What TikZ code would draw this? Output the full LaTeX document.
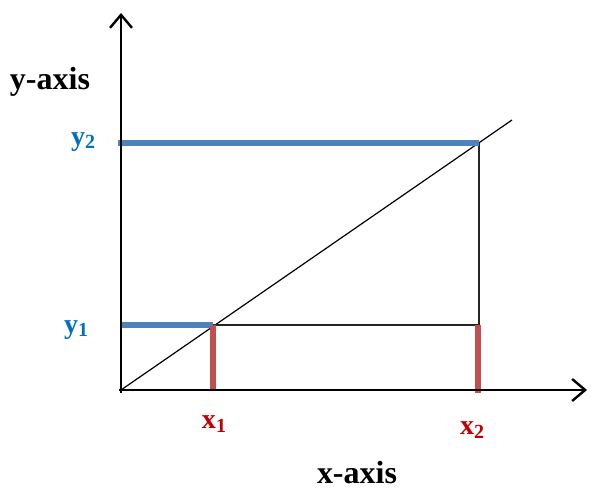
\documentclass[tikz,border=0pt]{standalone}
\usepackage{fontspec}
\setmainfont{Liberation Serif}
\usetikzlibrary{arrows.meta}
\definecolor{lineblue}{HTML}{4F81BD}
\definecolor{textblue}{HTML}{0070C0}
\definecolor{linered}{HTML}{C0504D}
\definecolor{textred}{HTML}{C00000}
\newcommand{\sub}[1]{\raisebox{-0.25ex}{\fontsize{10}{11}\selectfont #1}}
\tikzset{
  axis/.style={line width=1.3pt,-{Straight Barb[length=6.5pt,width=11pt,line width=1.2pt]}},
  thinline/.style={line width=0.8pt,draw=black!85},
  blueline/.style={line width=2.6pt,draw=lineblue},
  redline/.style={line width=2.6pt,draw=linered},
  axislabel/.style={font=\fontsize{16}{18}\selectfont\bfseries},
  bluelabel/.style={font=\fontsize{14}{16}\selectfont\bfseries,text=textblue},
  redlabel/.style={font=\fontsize{14}{16}\selectfont\bfseries,text=textred}
}
\begin{document}
\begin{tikzpicture}[x=0.5pt,y=-0.5pt]
  \useasboundingbox (0,0) rectangle (591,490);
  % points
  \coordinate (origin) at (121,390);
  \coordinate (ytip) at (121,13);
  \coordinate (xtip) at (587,390);
  \coordinate (ystart) at (121,393);
  \coordinate (xstart) at (119,390);
  \coordinate (diagend) at (512,120);
  \coordinate (ptA) at (213,325);
  \coordinate (ptB) at (479,143);
  \coordinate (yoneleft) at (121,325);
  \coordinate (ytwoleft) at (118,143);
  \coordinate (cornerB) at (479,325);
  \coordinate (xonefoot) at (213,390);
  \coordinate (xtwofoot) at (478,393);
  \coordinate (xtwotop) at (478,325);

  % diagonal and rectangle
  \draw[line width=0.6pt] (origin) -- (diagend);
  \draw[thinline] (ptA) -- (cornerB) -- (ptB);

  % levels
  \draw[blueline] (ytwoleft) -- (ptB);
  \draw[blueline] (yoneleft) -- (ptA);
  \draw[redline] (ptA) -- (xonefoot);
  \draw[redline] (xtwotop) -- (xtwofoot);

  % axes
  \draw[axis] (ystart) -- (ytip);
  \draw[axis] (xstart) -- (xtip);

  % labels
  \node[axislabel] (ylab) at (50,82) {y-axis};
  \node[axislabel] (xlab) at (357,473) {x-axis};
  \node[bluelabel] (ytwo) at (83,142) {y\sub{2}};
  \node[bluelabel] (yone) at (76,330) {y\sub{1}};
  \node[redlabel] (xone) at (214,424) {x\sub{1}};
  \node[redlabel] (xtwo) at (472,430) {x\sub{2}};
\end{tikzpicture}
\end{document}
